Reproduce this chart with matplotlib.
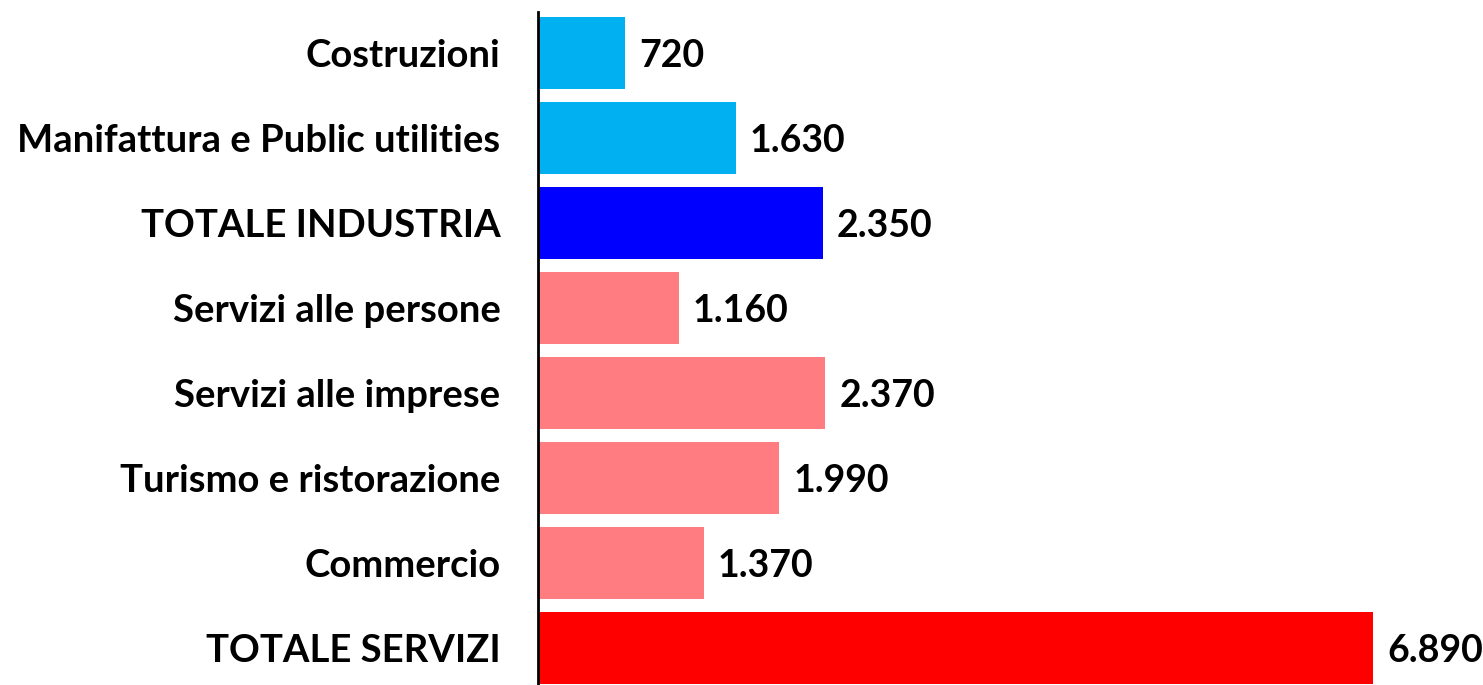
import matplotlib.pyplot as plt

categories = ["Costruzioni", "Manifattura e Public utilities", "TOTALE INDUSTRIA",
              "Servizi alle persone", "Servizi alle imprese", "Turismo e ristorazione",
              "Commercio", "TOTALE SERVIZI"]
values = [720, 1630, 2350, 1160, 2370, 1990, 1370, 6890]
colors = ["#00B0F0", "#00B0F0", "#0000FF", "#FF7C80", "#FF7C80", "#FF7C80", "#FF7C80", "#FF0000"]

plt.rcParams['font.family'] = ['Lato', 'DejaVu Sans']

fig = plt.figure(figsize=(14.83, 6.85), dpi=100)
ax = fig.add_axes([538 / 1483, 0, 945 / 1483, 673 / 685])

y = list(range(len(categories)))
ax.barh(y, values, height=0.847, color=colors)
ax.set_xlim(0, 945 / 0.12119)
ax.set_ylim(7.435, -0.482)

# value labels to the right of each bar, italian thousands separator
for yi, v in zip(y, values):
    lab = f"{v:,}".replace(",", ".")
    ax.text(v + 115, yi + 0.04, lab, va="center", ha="left", fontsize=27, fontweight="bold")

ax.set_yticks(y)
ax.set_yticklabels(categories, fontsize=27.5, fontweight="bold")
ax.tick_params(axis="y", length=0, pad=27)
ax.set_xticks([])
for s in ["top", "right", "bottom"]:
    ax.spines[s].set_visible(False)
ax.spines["left"].set_linewidth(2)

fig.savefig("out.png", dpi=100)
